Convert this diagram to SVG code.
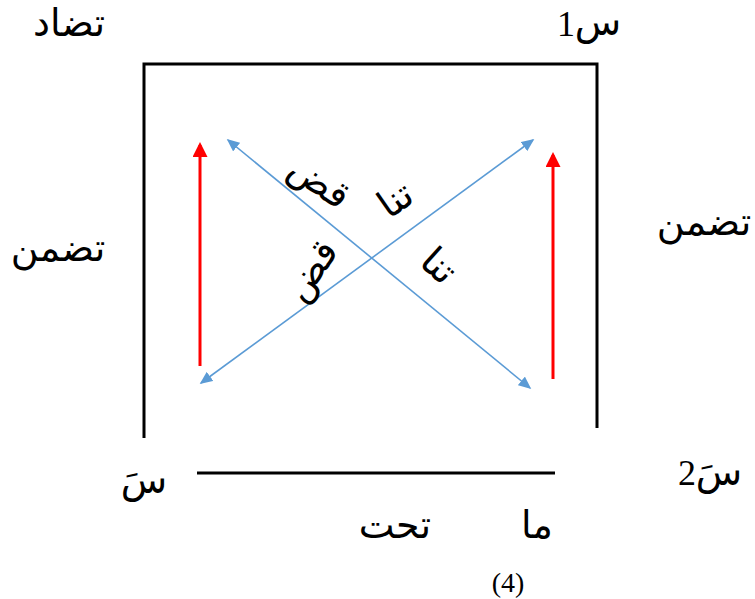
<svg xmlns="http://www.w3.org/2000/svg" width="755" height="599" viewBox="0 0 755 599">
<style>
.ar{font-family:"DejaVu Sans","Noto Sans",sans-serif;font-size:38px;fill:#000;text-anchor:middle}
.lat{font-family:"Liberation Serif","Times New Roman",serif;fill:#000;text-anchor:middle}
.frame{stroke:#000;stroke-width:3;fill:none}
.red{stroke:#FF0000;stroke-width:3;fill:none;marker-end:url(#rh)}
.blue{stroke:#5B9BD5;stroke-width:1.6;fill:none;marker-start:url(#bhs);marker-end:url(#bh)}
</style>
<defs>
<marker id="rh" markerWidth="5" markerHeight="5" refX="4" refY="2.5" orient="auto" markerUnits="strokeWidth">
<path d="M0,0 L5,2.5 L0,5 Z" fill="#FF0000"/>
</marker>
<marker id="bh" markerWidth="8" markerHeight="7" refX="7" refY="3.5" orient="auto" markerUnits="strokeWidth">
<path d="M0,0 L8,3.5 L0,7 Z" fill="#5B9BD5"/>
</marker>
<marker id="bhs" markerWidth="8" markerHeight="7" refX="1" refY="3.5" orient="auto" markerUnits="strokeWidth">
<path d="M8,0 L0,3.5 L8,7 Z" fill="#5B9BD5"/>
</marker>
</defs>
<g id="frame">
<path class="frame" d="M144,438 L144,64 L597,64 L597,428"/>
<line class="frame" x1="197" y1="473" x2="555" y2="473"/>
</g>
<g id="connectors">
<line class="red" x1="200" y1="366" x2="200" y2="145"/>
<line class="red" x1="553" y1="379" x2="553" y2="155"/>
<line class="blue" x1="201" y1="383" x2="533" y2="140"/>
<line class="blue" x1="228" y1="140" x2="530" y2="388"/>
</g>
<g id="n-tadad"><text class="ar" x="69" y="36">تضاد</text></g>
<g id="n-s1"><text class="lat" x="566" y="36" font-size="36" text-anchor="end">1</text><text class="ar" x="598" y="35" font-size="28">س</text></g>
<g id="n-tadammun-l"><text class="ar" x="58" y="261">تضمن</text></g>
<g id="n-tadammun-r"><text class="ar" x="704" y="235">تضمن</text></g>
<g id="n-s-bar"><text class="ar" x="144" y="493" font-size="30">سَ</text></g>
<g id="n-s2"><text class="lat" x="687" y="485" font-size="36" text-anchor="end">2</text><text class="ar" x="719" y="485" font-size="29">سَ</text></g>
<g id="n-taht"><text class="ar" x="395" y="538">تحت</text></g>
<g id="n-ma"><text class="ar" x="537" y="538">ما</text></g>
<g id="n-4"><text class="lat" x="508" y="592" font-size="28">(4)</text></g>
<g id="n-tanaqud-top">
<text class="ar" font-size="46" transform="translate(318,184) rotate(35)" y="10">قض</text>
<text class="ar" font-size="46" transform="translate(397,202) rotate(-35)" y="10">تنا</text>
</g>
<g id="n-tanaqud-bottom">
<text class="ar" font-size="46" transform="translate(313,272) rotate(-55)" y="10">قض</text>
<text class="ar" font-size="46" transform="translate(437,268) rotate(42)" y="10">تنا</text>
</g>
</svg>
